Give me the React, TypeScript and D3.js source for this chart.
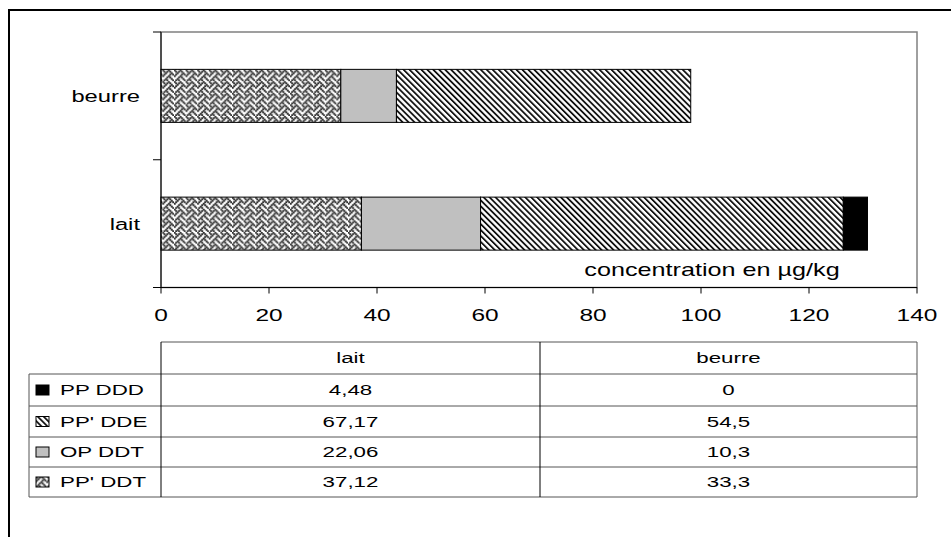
import React from "react";
import * as d3 from "d3";

const categories = ["beurre", "lait"];
const seriesNames = ["PP' DDT", "OP DDT", "PP' DDE", "PP DDD"];
const laitValues = [37.12, 22.06, 67.17, 4.48];
const beurreValues = [33.3, 10.3, 54.5, 0];
const xTicks = [0, 20, 40, 60, 80, 100, 120, 140];
const axisTitle = "concentration en µg/kg";
const weaveBits = [0x88, 0x54, 0x22, 0x45, 0x88, 0x14, 0x22, 0x51];

const fills = ["url(#weave)", "#c0c0c0", "url(#diag)", "#000000"];
const FONT = "'Liberation Sans', Arial, sans-serif";
const SX = 1.44;

function T({ x, y, anchor = "start", size = 16.5, children }: any) {
  return (
    <text transform={`translate(${x},${y}) scale(${SX},1)`} textAnchor={anchor}
      dominantBaseline="central" fontSize={size} fill="#000">{children}</text>
  );
}

export default function App() {
  const W = 951, H = 537;
  const plotL = 161, plotR = 917, plotT = 32, plotB = 287.5;
  const x = d3.scaleLinear().domain([0, 140]).range([plotL, plotR]);
  const y = d3.scaleBand<string>().domain(categories).range([plotT, plotB]);
  const bh = y.bandwidth() * 0.415;

  const valuesByCat: Record<string, number[]> = { lait: laitValues, beurre: beurreValues };
  const rows = categories.map((c) => {
    const o: any = { cat: c };
    seriesNames.forEach((s, i) => (o[s] = valuesByCat[c][i]));
    return o;
  });
  const stack = d3.stack<any>().keys(seriesNames)(rows);

  const tabL = 29, colA = 161, colB = 540, tabR = 917;
  const headT = 342, rowT = 374;
  const rowYs = [374, 406, 437, 467, 497];
  const tableOrder = [3, 2, 1, 0];
  const fmt = (v: number) => String(v).replace(".", ",");

  const px = 1.45;
  const weaveCells: JSX.Element[] = [];
  weaveBits.forEach((b, r) => {
    for (let c = 0; c < 8; c++) {
      if (b & (0x80 >> c)) weaveCells.push(<rect key={`${r}-${c}`} x={c * px - 0.25} y={r * px - 0.25} width={px + 0.5} height={px + 0.5} fill="#2a2a2a" />);
    }
  });

  return (
    <svg width={W} height={H} style={{ position: "absolute", left: 0, top: 0, background: "#fff" }} fontFamily={FONT}>
      <defs>
        <pattern id="diag" patternUnits="userSpaceOnUse" width="4.2" height="4.2" patternTransform="rotate(-45)">
          <rect width="4.2" height="4.2" fill="#fff" />
          <rect width="1.8" height="4.2" fill="#111" />
        </pattern>
        <pattern id="weave" patternUnits="userSpaceOnUse" width={8 * px} height={8 * px}>
          <rect width={8 * px} height={8 * px} fill="#fff" />
          {weaveCells}
        </pattern>
      </defs>
      <rect width={W} height={H} fill="#fff" />
      <path d={`M9,${H} V10 H${W}`} fill="none" stroke="#000" strokeWidth={2} />

      <rect x={plotL} y={plotT} width={plotR - plotL} height={plotB - plotT} fill="none" stroke="#808080" strokeWidth={1.5} />

      {stack.map((s, si) =>
        s.map((d, di) => {
          const w = x(d[1]) - x(d[0]);
          if (w <= 0) return null;
          const cy = (y(d.data.cat) as number) + y.bandwidth() / 2;
          return (
            <rect key={`${si}-${di}`} x={x(d[0])} y={cy - bh / 2} width={w} height={bh}
              fill={fills[si]} stroke="#000" strokeWidth={1} />
          );
        })
      )}

      <line x1={plotL} x2={plotL} y1={plotT} y2={plotB} stroke="#000" strokeWidth={1} />
      {[plotT, plotT + y.bandwidth(), plotB].map((t, i) => (
        <line key={i} x1={plotL - 8} x2={plotL} y1={t} y2={t} stroke="#000" strokeWidth={1} />
      ))}
      {categories.map((c) => (
        <T key={c} x={140} y={(y(c) as number) + y.bandwidth() / 2} anchor="end">{c}</T>
      ))}

      <line x1={plotL} x2={plotR} y1={plotB} y2={plotB} stroke="#000" strokeWidth={1} />
      {xTicks.map((t) => (
        <g key={t}>
          <line x1={x(t)} x2={x(t)} y1={plotB} y2={plotB + 6} stroke="#000" strokeWidth={1} />
          <T x={x(t)} y={315} anchor="middle" size={17}>{t}</T>
        </g>
      ))}
      <T x={712} y={270} anchor="middle" size={17.5}>{axisTitle}</T>

      <g fill="none" stroke="#555" strokeWidth={1}>
        <line x1={colA} x2={tabR} y1={headT} y2={headT} />
        {rowYs.map((ry) => (
          <line key={ry} x1={tabL} x2={tabR} y1={ry} y2={ry} />
        ))}
        <line x1={tabL} x2={tabL} y1={rowT} y2={rowYs[4]} />
        <line x1={colB} x2={colB} y1={headT} y2={rowYs[4]} stroke="#000" />
        <line x1={tabR} x2={tabR} y1={headT} y2={rowYs[4]} />
        <line x1={colA} x2={colA} y1={headT} y2={rowYs[4]} stroke="#000" />
      </g>
      <T x={(colA + colB) / 2} y={(headT + rowT) / 2} anchor="middle" size={15.5}>lait</T>
      <T x={(colB + tabR) / 2} y={(headT + rowT) / 2} anchor="middle" size={15.5}>beurre</T>
      {tableOrder.map((si, ri) => {
        const cy = (rowYs[ri] + rowYs[ri + 1]) / 2;
        return (
          <g key={si}>
            <rect x={36} y={cy - 5} width={13} height={10} fill={fills[si]} stroke="#000" strokeWidth={1} />
            <T x={60} y={cy} size={15.5}>{seriesNames[si]}</T>
            <T x={(colA + colB) / 2} y={cy} anchor="middle" size={15.5}>{fmt(laitValues[si])}</T>
            <T x={(colB + tabR) / 2} y={cy} anchor="middle" size={15.5}>{fmt(beurreValues[si])}</T>
          </g>
        );
      })}
    </svg>
  );
}
